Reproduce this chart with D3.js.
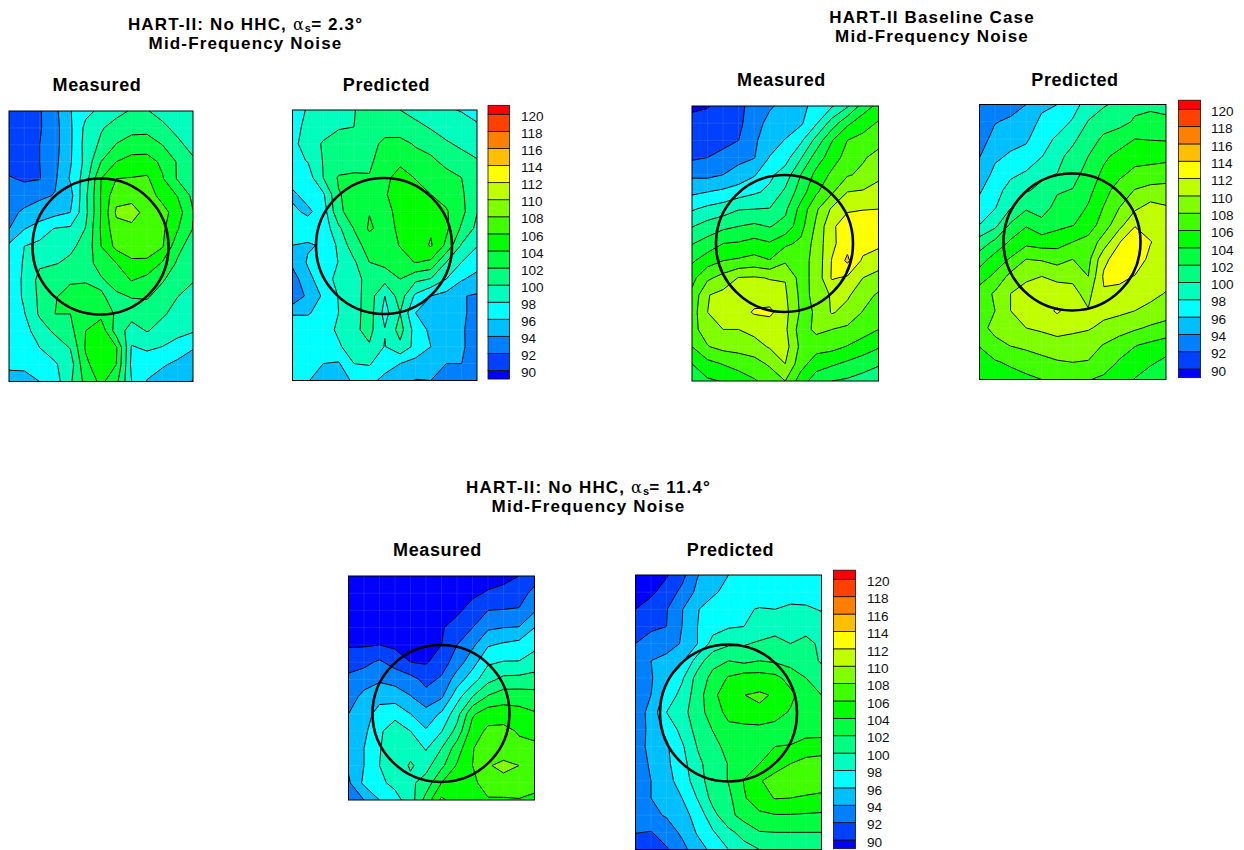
<!DOCTYPE html>
<html><head><meta charset="utf-8">
<script src="https://cdnjs.cloudflare.com/ajax/libs/d3/7.8.5/d3.min.js"></script>
<style>html,body{margin:0;padding:0;background:#fff}svg{display:block}text{font-family:"Liberation Sans",Arial,sans-serif}</style>
</head><body><svg id="c" width="1244" height="850"></svg>
<script>
const levels=[90,92,94,96,98,100,102,104,106,108,110,112,114,116,118,120];
const levelColors=["#0040ff","#0080ff","#00bfff","#00ffff","#00ffbf","#00ff80","#00ff40","#00ff00","#40ff00","#80ff00","#bfff00","#ffff00","#ffbf00","#ff8000","#ff4000","#ff0000"];
const baseColor="#0000ff";
const legendLabels=[120,118,116,114,112,110,108,106,104,102,100,98,96,94,92,90];

const measuredLow=[
[90,91,91.8,93.5,95.9,97.5,98.4,99.4,100.2,100.1,99.4,99,98.8],
[90.5,91,91.8,93.3,95.7,98.5,99.8,100.8,101.3,101.4,100.4,99.5,99],
[90.8,91,92,93.3,95.7,98.7,100.4,102.1,103,103,102,100.4,99.4],
[91,91,92,93.5,95.8,98.6,102,104,104.7,104.8,103.6,101.8,100.3],
[92.2,91.7,91.9,93.7,96.2,99,104,106,106.1,106.3,104.2,101.8,100.5],
[92.9,93.2,93.6,94.1,95.3,99.6,104.1,107.4,107.2,107,105.3,103.9,101.5],
[93.5,94.3,95,95.4,96,99.5,104.1,108.3,108.9,107.2,106.8,104.9,102.1],
[94,96,96.9,98.2,98.4,100.1,104.2,107.3,107.4,107,106.4,104.1,101.9],
[96.4,98,98.6,99.2,99.7,100.5,104,106.6,106.8,107,106.2,102.6,101],
[96.1,98.3,99.7,99.9,100.3,101,103,104,105.7,105.6,103.8,101.7,100.4],
[96.5,98.4,100.6,101.2,101.8,101.8,101.7,103,104.1,103.3,102.2,100.8,100.1],
[96.7,98.3,100.4,101.9,102.6,103,102.2,101.5,102.1,102.2,101,100,99.4],
[96.8,97.9,100.3,102,102,103.3,103.4,101.7,100.7,100.8,100.2,99.5,98.9],
[96.8,97.3,99,100.4,101.4,104,105.3,101,99.2,100.1,99.4,98.8,98.2],
[96.6,96.9,98,98.8,100.1,104.2,105.2,104.2,97.8,98.3,97.9,96.9,96.1],
[96.2,96.3,97.1,97.8,99,103.6,105.1,104,97.5,96.8,96.2,95.6,95.2],
[95.6,95.5,96,97.1,99.7,102.6,104.5,102.5,98,95.9,95.2,94.7,93.9]];

const predictedLow=[
[97,98.2,98.7,99.3,99.9,101,100.9,100,99.2,98.7,98.2,97.9,97.5],
[97.6,98.3,98.7,99.9,100,100.8,101.3,101,100.6,99.8,99.3,98.7,98.2],
[97.7,98.5,100.3,100.5,100.9,101.4,102.4,102.6,101.8,101.2,100.2,99.7,99.3],
[97.4,98.1,100.1,100.7,101,101.7,102.8,103.5,102.8,102.4,101.4,100.6,100.1],
[96.9,97,100,102.2,102.4,102.1,103.4,104.9,103.9,103.5,102.7,102,100.6],
[95.6,96.8,97.7,101.9,102.5,102.8,103.8,105,104.8,104,103.3,102.3,100.5],
[96.4,95.6,97,101.6,102.9,103.9,103.5,104.5,105.1,105.1,104.2,102.6,100.1],
[96.8,97,96.7,99.6,102.1,104.3,103.2,104.4,105.6,105.75,104.4,101.7,99.5],
[96,95.8,96.2,98.4,101.2,102.8,103,104.1,104.9,106.2,103.6,99.8,98.1],
[94.5,96.2,96,98.1,99.7,102,102.6,103.2,104.1,103.6,100,98,96.9],
[93,95.5,96.9,98.7,99.3,100.7,100.7,102,100.5,99.9,98,96.2,95.3],
[92.3,94.5,96.3,98.1,99.1,101,98,101,97.6,96,95.3,94.1,93.8],
[95.7,95.9,96.4,98,99.2,101,97.3,100,96,95,94.8,94.4,93.2],
[97.9,96.6,97,98.4,99.6,100.6,98.1,100.8,97.1,95.6,94.6,94.2,93.2],
[97.9,96.4,96.9,97.7,99.2,99.8,97.9,99.5,97.4,96,94.7,94.2,93.3],
[97.8,96.2,96,95.8,98,98.2,96.6,96,95.3,94.8,94,94,93.4],
[96.5,96.1,95.2,95.1,96.3,96.4,95.6,94.8,93.9,94,93.4,93.2,92.9]];

const measuredBase=[
[89.7,89.9,90.6,91.6,92.6,93.8,94.5,95.2,97,97.8,99.7,102.9,104.6],
[90.5,90.6,91,91.5,93.3,94.5,95,95.7,97.8,100.9,103.6,105.2,106.2],
[90.6,90.9,91.2,92,93.7,95,96.1,97.6,100.7,103.9,106,106.6,107.4],
[91.7,92,92.8,93.5,93.9,96.1,97.2,99.8,103,105,106.8,107.8,108.6],
[93.6,93.5,94,94.7,95.8,97.6,98.9,102,104.6,106.4,107.8,108.4,109.7],
[95.6,96,96.4,97,97.7,98.4,100.4,103,105.7,107.7,110,110.2,110.5],
[97.8,98.5,99,99.9,100,100.1,101.6,104.7,107.7,110.3,111.7,111.9,112],
[99.9,100.8,101.5,102,102.4,101.9,102.6,105.3,108.4,111.6,113.2,113.6,113.4],
[101.9,102.8,104,104.2,104.7,104.2,105.6,106.4,108.8,111.5,113.3,113,112.5],
[103.7,105.1,106,106.3,106.7,106.1,107.7,107.3,108.6,112.1,114.4,111.6,110.8],
[105.4,107.6,108.7,110.1,110.2,109.9,109.9,107.2,108.7,112.2,111.7,110,109.4],
[106.5,109.9,110.6,110.9,111.2,110.9,110.3,107.5,108.4,110.3,110.3,108.8,107.7],
[107,110,110.7,111.2,112.2,112.5,110.6,107.7,108.1,110.2,109.3,107.9,106.8],
[107.4,108.9,110,110,110.6,110.6,110.4,107,108.5,108,107.6,106.9,106],
[106,107.9,108.6,108.8,109.2,110.2,110.8,107.5,106.8,106.6,105.9,105,104.2],
[104,105.4,106.1,106.7,107.2,108.3,110,106.8,104.9,104.3,103.6,103,102.2],
[103.1,103.7,104.1,105,105.8,106.7,108,105,102.9,102,101.7,101.1,100.8]];

const predictedBase=[
[92.5,92.8,93.3,94,95.3,96,97.2,98.9,99.8,100.5,101.6,101.8,101.7],
[92.9,93.9,94.3,94.2,96.7,97,98.2,100.1,101,101.4,102.2,102.3,102.2],
[93.2,94.6,95.5,95.7,97.2,98.3,99.6,101,102.4,103,104,103.9,103.8],
[93.9,95.7,96.2,96.7,97.9,99.5,100.6,102,103.6,104.6,105.2,105.2,105.4],
[94.9,96.4,97.5,98.2,99.6,100,101.2,102.8,104.4,105.5,106.5,106.8,107],
[95.8,97.1,98.9,99.8,100.5,101.8,102.1,103.4,105.3,106.9,108.1,108.6,108.7],
[96.6,97.9,99.9,101.7,101.2,102.6,102.9,104.2,106.1,108,109.6,110.7,110.2],
[98,99.4,102.3,103.8,102.6,103.4,103.9,104.9,107,109.3,111.8,110.9,110.8],
[100.9,102.4,104.3,105.4,105,105.3,106,106.7,108.9,111.9,113.7,112.1,110.9],
[103,104.9,106.2,108,107.8,107.1,108,107.4,111.5,113,113.4,111.4,110.9],
[105.1,106.4,108.6,109.7,110,109.7,109.7,108,112.3,112.6,111.9,111,110.7],
[106.9,108.3,110,110.6,110.8,110.6,110.4,109.5,111.8,111.3,110.8,110.5,109.9],
[107.6,108,110,110.6,111,112.3,111,110.1,110.6,110.4,110,109.5,108.8],
[107.2,108.7,109.3,110,110.3,110.6,110.4,110.2,109.5,109,108.3,107.7,107.4],
[106.1,107.3,108.1,108.5,109,109.4,109.2,108.8,107.9,106.9,106.1,105.6,105],
[105.2,105.8,106.3,106.8,107.3,107.8,108,107.9,107,105.8,105,104.3,103.5],
[104.4,104.9,105.2,105.6,106,106.2,106.4,106.1,105.6,104.9,103.9,102.9,102.4]];

const measuredHigh=[
[88.5,88.5,88.5,88.5,88.5,88.5,88.5,88.5,88.8,89.2,89.6,90,91],
[89,89,89,89,89,89,89,89.2,89.6,90.2,90.4,91,92.7],
[89.2,89.2,89.2,89.2,89.2,89.2,89.5,89.6,90.8,92,92.1,92.2,93.8],
[89.5,89.4,89.5,89.6,89.6,89.6,89.8,90.9,92,93.7,94,94.1,96],
[89.8,89.8,90,89.6,89.8,89.8,90,92,93.6,95.8,96.3,96.7,97.5],
[91.1,91.5,92.3,91.2,90,89.8,91,93,95.2,97.7,98.1,98.1,98.9],
[92.5,93,93.7,93.3,92.7,91.4,92.3,95,97.1,99.4,100.5,100.6,100.8],
[93,94.6,95.4,95.1,94.1,92.7,93.7,97.2,100,102.2,103.1,103.1,102.8],
[94,95.2,96.7,97.4,96,94.8,96.3,99.2,103.7,105.1,105,104.7,104.2],
[94.4,95.5,97.7,99,98,96.2,97.9,100.7,105,106.4,106.6,105.8,105.6],
[94.6,96,97.9,99,99.4,97.8,100,103,105.9,107,107.3,106.5,106.3],
[94.3,96,98,98.9,100.2,99.3,101.5,104.2,106,107.9,108.3,108,107],
[93.7,96.4,97.6,98.5,99.6,100.8,104,105.4,105.5,107,107.6,107,106.3],
[93.2,94,96,97.3,99,102.8,106.4,105,105.6,105.8,105.7,105.9,105.8]];

const predictedHigh=[
[88.5,89,89.8,91.4,93.9,95.1,96,96.4,96.5,96.7,97,97.2,97.2],
[89.1,89.6,90.9,92.5,94.5,95.7,96.6,97,97.1,97.2,97.3,97.4,97.4],
[90,91,91.9,93.9,95.9,96.9,97.4,97.8,98.1,98,98.3,98.2,97.9],
[91.2,91.7,92,94,96,97.2,97.8,98,98.6,99,99.1,99.1,98.7],
[92,92.7,93,94.2,96,98.8,99.7,99.8,100.3,100.8,100,100.7,99.5],
[92.5,94,94.7,95.6,99,101.4,102,101.5,102,101.7,101.2,100.8,99.8],
[93,93.8,95.6,97.7,100.8,102.6,104.2,105,104.9,104.6,103.2,102,100.9],
[93,94,96.7,98.7,101,103.6,105,105.98,106.26,105.83,104.5,102.9,102],
[93,94.6,98,99.2,101.3,102.8,104.7,105.3,105.7,104.8,103.8,102.8,102.5],
[92,95,96.5,98.7,100.7,102.1,103.4,103.4,103.4,103.3,103.2,103.2,103],
[93,94.6,95.7,97.7,100.1,101.3,102.7,102.9,103.2,104,104.1,104.8,105.1],
[93.2,94.2,95.6,97.2,99.6,100.8,102.1,103,104,105,106,106.7,106.8],
[92.6,94,95.5,96.6,99.3,100.8,102.1,104.1,105.8,106.9,107.1,107,106.9],
[93,94,95.2,96,98.1,100.7,101.5,103.8,105.2,106.1,106,105.8,105.6],
[93,93.5,94.2,95.3,96.7,99.4,101.4,102.8,103.6,103.9,103.9,103.8,103.7],
[92.1,91.9,92.9,94.4,96.2,97.8,99.5,100.7,101.9,102,102,102,102],
[90,90.5,91.8,93.3,95.2,96.5,98,99.3,100,100.2,100.4,100.5,100.6]];

const panels=[
 {grid:measuredLow,  box:[9,111,193,381.5],  circle:[100.5,246.5,68]},
 {grid:predictedLow, box:[292.5,110,477,380.5], circle:[384,246,68]},
 {grid:measuredBase, box:[692,106,878.5,381], circle:[784.5,243.5,68.5]},
 {grid:predictedBase,box:[979.5,104.5,1166,379.5], circle:[1072,242,68.5]},
 {grid:measuredHigh, box:[348.5,576,534.5,800], circle:[441,713.5,68.5]},
 {grid:predictedHigh,box:[635.5,575,821.5,849.5], circle:[728.5,713,68.5]}
];
const legends=[
 {x:488,w:21.5,y120:114.3,y90:370.5,lx:521},
 {x:1178.5,w:22,y120:109.3,y90:369,lx:1211},
 {x:833.5,w:22,y120:579.3,y90:840,lx:867}
];
const legendEnds={top:121.05,bottom:89};
const headings=[
 {cx:245.5,y1:24,y2:43,line1:"HART-II: No HHC, ",alpha:"= 2.3°",line2:"Mid-Frequency Noise"},
 {cx:932,y1:16.5,y2:36,line1:"HART-II Baseline Case",alpha:null,line2:"Mid-Frequency Noise"},
 {cx:588.5,y1:487,y2:506.5,line1:"HART-II: No HHC, ",alpha:"= 11.4°",line2:"Mid-Frequency Noise"}
];
const subheads=[
 {t:"Measured",x:97,y:85},{t:"Predicted",x:386.5,y:85},
 {t:"Measured",x:781.5,y:79.5},{t:"Predicted",x:1075,y:79.5},
 {t:"Measured",x:437.5,y:549.5},{t:"Predicted",x:730.5,y:549.5}
];

const svg=d3.select("#c");
const defs=svg.append("defs");
panels.forEach((p,i)=>{
  const [x0,y0,x1,y1]=p.box;
  const rows=p.grid.length, cols=p.grid[0].length;
  const sx=d3.scaleLinear().domain([0,cols-1]).range([x0,x1]);
  const sy=d3.scaleLinear().domain([0,rows-1]).range([y0,y1]);
  const gen=d3.contours().size([cols,rows]).thresholds(levels);
  const bands=gen(p.grid.flat());
  const proj=d3.geoTransform({point(x,y){this.stream.point(sx(x-0.5),sy(y-0.5));}});
  const path=d3.geoPath(proj);
  defs.append("clipPath").attr("id","clip"+i).append("rect").attr("x",x0).attr("y",y0).attr("width",x1-x0).attr("height",y1-y0);
  const g=svg.append("g");
  const inner=g.append("g").attr("clip-path",`url(#clip${i})`);
  inner.append("rect").attr("x",x0).attr("y",y0).attr("width",x1-x0).attr("height",y1-y0).attr("fill",baseColor);
  inner.selectAll("path.b").data(bands).join("path").attr("class","b")
    .attr("d",path).attr("fill",(d,k)=>levelColors[k]).attr("stroke","#000").attr("stroke-width",1).attr("stroke-linejoin","round");
  inner.selectAll("line.v").data(d3.range(1,cols-1)).join("line").attr("class","v")
    .attr("x1",d=>sx(d)).attr("x2",d=>sx(d)).attr("y1",y0).attr("y2",y1).attr("stroke","#fff").attr("stroke-opacity",0.1);
  inner.selectAll("line.h").data(d3.range(1,rows-1)).join("line").attr("class","h")
    .attr("y1",d=>sy(d)).attr("y2",d=>sy(d)).attr("x1",x0).attr("x2",x1).attr("stroke","#fff").attr("stroke-opacity",0.1);
  g.append("rect").attr("x",x0).attr("y",y0).attr("width",x1-x0).attr("height",y1-y0).attr("fill","none").attr("stroke","#000").attr("stroke-width",1);
  g.append("circle").attr("cx",p.circle[0]).attr("cy",p.circle[1]).attr("r",p.circle[2]).attr("fill","none").attr("stroke","#000").attr("stroke-width",2.6);
});
legends.forEach(l=>{
  const y=d3.scaleLinear().domain([90,120]).range([l.y90,l.y120]);
  const g=svg.append("g");
  const ramp=[{lo:legendEnds.bottom,hi:90,c:baseColor}].concat(levels.map((v,k)=>({lo:v,hi:Math.min(v+2,legendEnds.top),c:levelColors[k]})));
  g.selectAll("rect").data(ramp).join("rect").attr("x",l.x).attr("width",l.w)
    .attr("y",d=>y(d.hi)).attr("height",d=>y(d.lo)-y(d.hi)).attr("fill",d=>d.c).attr("stroke","#111").attr("stroke-width",0.8);
  g.selectAll("text").data(legendLabels).join("text").attr("x",l.lx).attr("y",d=>y(d)+2.2)
    .attr("dominant-baseline","central").attr("font-size",13.6).attr("fill","#111").text(d=>d);
});
headings.forEach(h=>{
  const t=svg.append("text").attr("x",h.cx).attr("y",h.y1).attr("text-anchor","middle").attr("dominant-baseline","central")
    .attr("font-size",17).attr("font-weight","bold").attr("letter-spacing",1.15).attr("fill","#000");
  t.append("tspan").text(h.line1);
  if(h.alpha){
    t.append("tspan").attr("font-weight","normal").attr("font-family","DejaVu Serif, serif").attr("font-size",16).text("α");
    t.append("tspan").attr("font-size",11).attr("dy",4).text("s");
    t.append("tspan").attr("dy",-4).attr("dx",-1).text(h.alpha);
  }
  svg.append("text").attr("x",h.cx).attr("y",h.y2).attr("text-anchor","middle").attr("dominant-baseline","central")
    .attr("font-size",17).attr("font-weight","bold").attr("letter-spacing",1.15).attr("fill","#000").text(h.line2);
});
svg.selectAll("text.sub").data(subheads).join("text").attr("class","sub")
  .attr("x",d=>d.x).attr("y",d=>d.y).attr("text-anchor","middle").attr("dominant-baseline","central")
  .attr("font-size",18).attr("font-weight","bold").attr("letter-spacing",0.6).attr("fill","#000").text(d=>d.t);
</script></body></html>
